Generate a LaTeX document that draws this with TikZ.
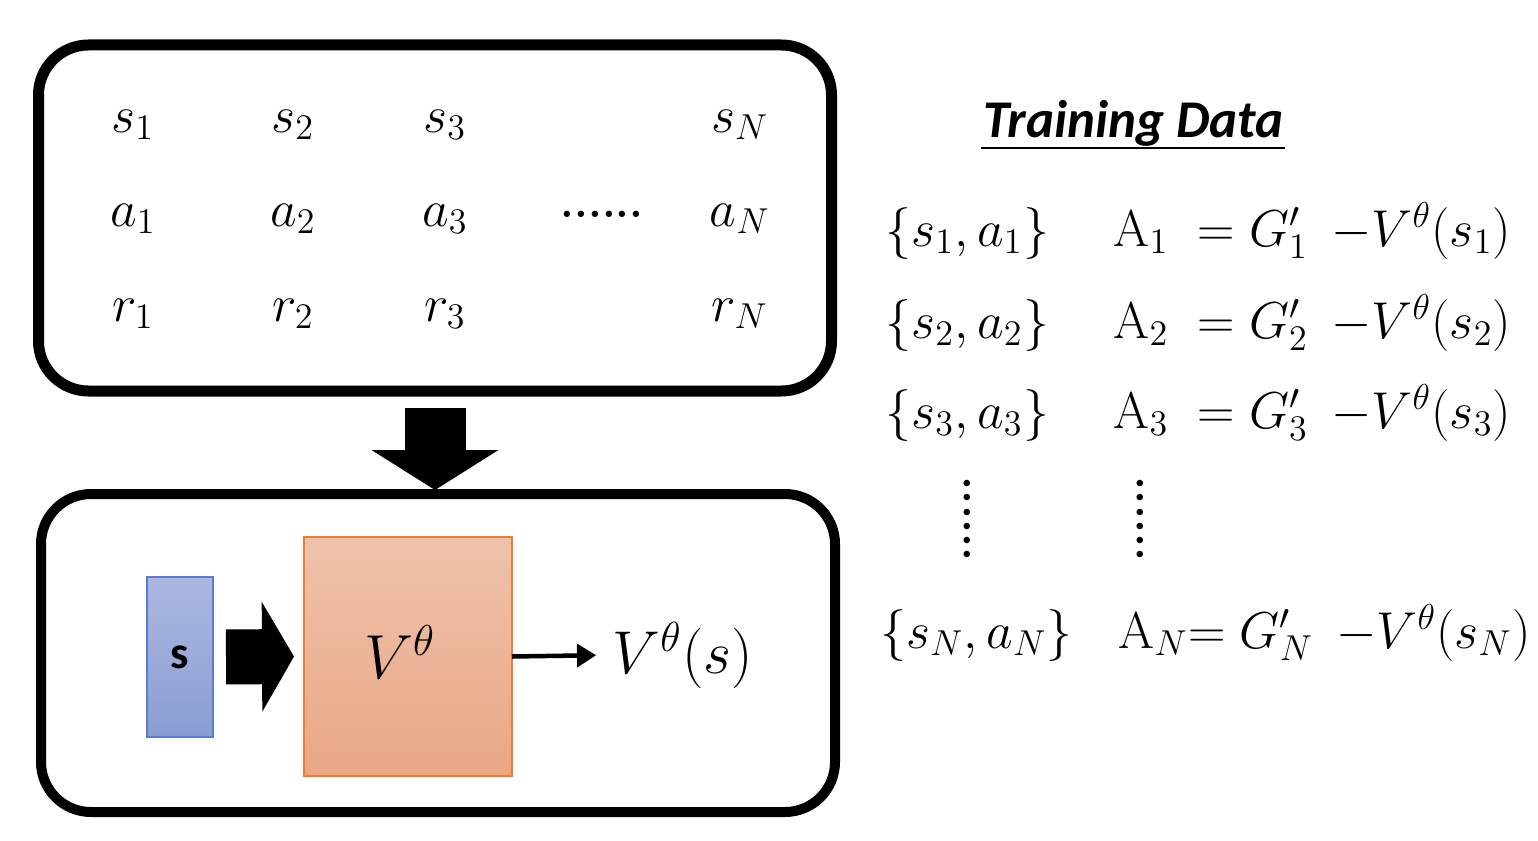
\documentclass[tikz,border=0pt]{standalone}
\usepackage{fontspec}
\newfontfamily\calibri{Carlito}
\usetikzlibrary{arrows.meta, positioning}

\definecolor{stateTop}{RGB}{172,184,224}
\definecolor{stateBot}{RGB}{138,157,211}
\definecolor{stateEdge}{RGB}{90,125,205}
\definecolor{netTop}{RGB}{238,194,171}
\definecolor{netBot}{RGB}{234,167,133}
\definecolor{netEdge}{RGB}{237,125,49}

\begin{document}
\begin{tikzpicture}[x=1pt, y=-1pt,
  panel/.style={draw, rounded corners=50pt, outer sep=0pt, inner sep=0pt},
  entry/.style={font=\LARGE, scale=3, inner sep=0pt, anchor=base},
  pair/.style={font=\LARGE, scale=3, inner sep=0pt, anchor=base west},
  vdots/.style={font=\LARGE\bfseries, scale=2.6, inner sep=0pt, rotate=90}
]
\useasboundingbox (0,0) rectangle (1538,840);

\node [panel, line width=11pt, minimum width=793pt, minimum height=346pt] (episodes) at (435,218) {};
\node [panel, line width=10pt, minimum width=794pt, minimum height=318pt] (critic) at (438,653) {};

% sampled trajectory
\foreach \x/\i in {133/1, 293/2, 445/3, 740/N} {
  \node [entry] (s\i) at (\x,132) {$s_{\i}$};
  \node [entry] (a\i) at (\x,226) {$a_{\i}$};
  \node [entry] (r\i) at (\x,321) {$r_{\i}$};
}
\node [entry, font=\LARGE\bfseries, scale=0.85] (hdots) at (602,217) {......};

\draw [line width=61pt, -{Triangle[length=40pt, width=127pt, line width=0pt]}, shorten <=17pt, shorten >=4pt]
    (episodes.south) -- (episodes.south |- critic.north);

% critic network
\node [draw=stateEdge, line width=1.5pt, top color=stateTop, bottom color=stateBot, outer sep=0pt,
       minimum width=66pt, minimum height=160pt, font=\calibri\bfseries\fontsize{46}{50}\selectfont] (state) at (180,657) {s};
\node [draw=netEdge, line width=1.2pt, top color=netTop, bottom color=netBot, outer sep=0pt,
       minimum width=208pt, minimum height=239pt] (vnet) at (408,656.5) {};
\node [font=\LARGE, scale=3.6, inner sep=0pt] (vlabel) at (400,652) {$V^{\theta}$};
\node [font=\LARGE, scale=3.5, inner sep=0pt, anchor=west] (vout) at (612,655) {$V^{\theta}(s)$};

\draw [line width=55pt, -{Triangle[length=32pt, width=110pt, line width=0pt]}, shorten <=13pt, shorten >=10pt]
    (state.east) -- (vnet.west);
\draw [line width=4.5pt, -{Triangle[length=19pt, width=24pt, line width=0pt]}, shorten >=16pt]
    (vnet.east) -- (vout.west);

% training data
\node [font=\calibri\bfseries\itshape\fontsize{53}{60}\selectfont, inner sep=2pt, anchor=base west] (title) at (981,137) {Training Data};
\draw [line width=2pt] (title.south west) -- (title.south east);

\foreach \i/\y in {1/246, 2/338, 3/428} {
  \node [pair] (pair\i) at (885,\y) {$\{s_{\i},a_{\i}\}$};
  \node [pair] (adv\i) at (1113,\y) {$\mathrm{A}_{\i}\;=G'_{\i}\;\,{-}V^{\theta}(s_{\i})$};
}
\node [vdots] (vd1) at (967,519) {......};
\node [vdots] (vd2) at (1140,519) {......};
\node [pair] (pairN) at (880,648) {$\{s_{N},a_{N}\}$};
\node [pair] (advN) at (1118,648) {$\mathrm{A}_{N}{=}\;G'_{N}\;\,{-}V^{\theta}(s_{N})$};

\end{tikzpicture}
\end{document}
